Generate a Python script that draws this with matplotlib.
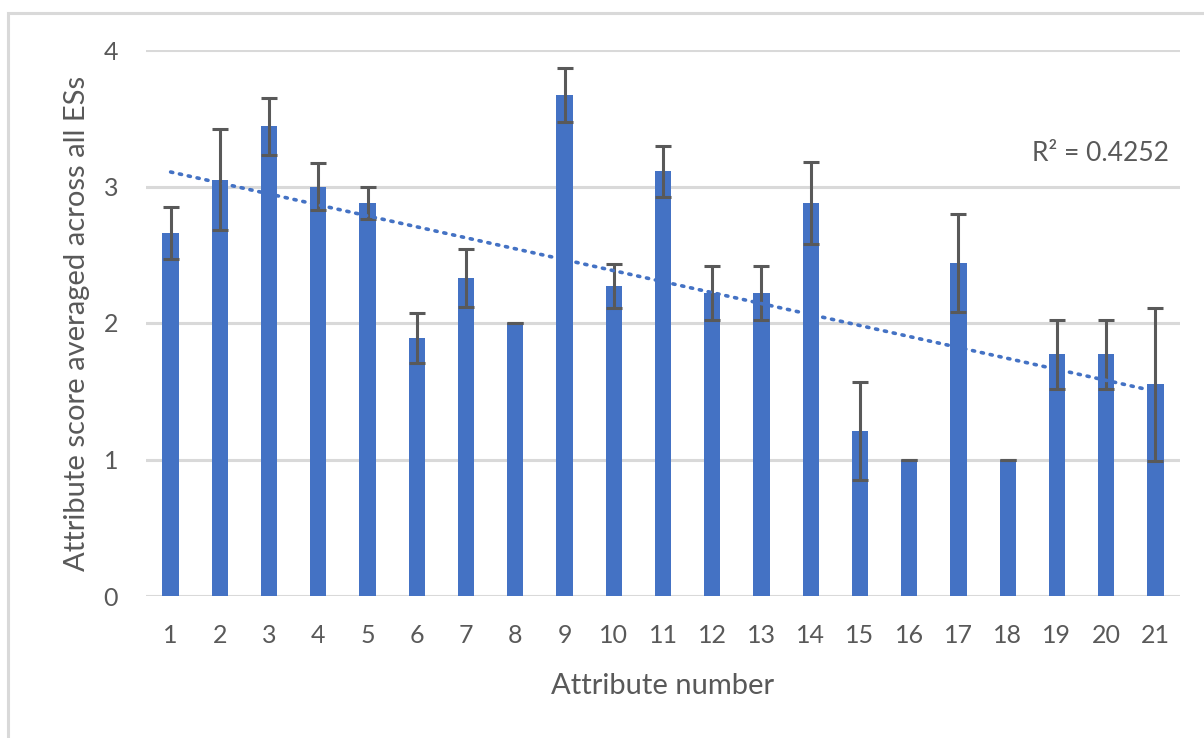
import numpy as np
import matplotlib.pyplot as plt
from matplotlib.patches import Rectangle

plt.rcParams['font.family'] = ['Lato', 'DejaVu Sans']

# Mean attribute score per attribute, with error bar half-widths
attributes = list(range(1, 22))
scores = [2.66, 3.05, 3.44, 3.00, 2.88, 1.89, 2.33, 2.00, 3.67, 2.27, 3.11,
          2.22, 2.22, 2.88, 1.21, 1.00, 2.44, 1.00, 1.77, 1.77, 1.55]
errors = [0.19, 0.37, 0.21, 0.17, 0.12, 0.18, 0.21, 0.00, 0.20, 0.16, 0.19,
          0.20, 0.20, 0.30, 0.36, 0.00, 0.36, 0.00, 0.25, 0.25, 0.56]
r2_label = "R² = 0.4252"

bar_color = "#4472C4"
text_color = "#595959"
grid_color = "#D9D9D9"

fig = plt.figure(figsize=(12.04, 7.38), dpi=100)
ax = fig.add_axes([146 / 1204, 1 - 596 / 738, 1034 / 1204, 546 / 738])

# thin outer frame (top and left edges visible)
fig.patches.append(Rectangle((8 / 1204, -0.1), 1.2, 1 - 13 / 738 + 0.1,
                             transform=fig.transFigure, fill=False,
                             edgecolor=grid_color, linewidth=2.2, zorder=0))

x = np.array(attributes)
y = np.array(scores)

ax.bar(x, y, width=0.33, color=bar_color, zorder=2)
ax.errorbar(x, y, yerr=errors, fmt="none", ecolor=text_color,
            elinewidth=2.2, capsize=5.5, capthick=2.2, zorder=3)

# linear trendline
coef = np.polyfit(x, y, 1)
xt = np.array([x[0], x[-1]])
ax.plot(xt, np.polyval(coef, xt), linestyle=(0, (0.6, 1.9)), color=bar_color,
        linewidth=2.6, dash_capstyle="round", zorder=4)
ax.text(21.28, 3.24, r2_label, ha="right", va="center", fontsize=19,
        color=text_color)

ax.set_xlim(0.5, 21.5)
ax.set_ylim(0, 4)
ax.set_xticks(x)
ax.set_xticklabels([str(a) for a in attributes])
ax.set_yticks([0, 1, 2, 3, 4])
ax.yaxis.grid(True, color=grid_color, linewidth=2.2, zorder=0)
ax.set_axisbelow(True)
for s in ax.spines.values():
    s.set_visible(False)
ax.tick_params(axis="both", length=0, labelsize=18, labelcolor=text_color)
ax.tick_params(axis="x", pad=20)
ax.tick_params(axis="y", pad=20)

ax.set_xlabel("Attribute number", fontsize=21, color=text_color, labelpad=19)
ax.set_ylabel("Attribute score averaged across all ESs", fontsize=21,
              color=text_color, labelpad=10)

fig.savefig("out.png", dpi=100)
